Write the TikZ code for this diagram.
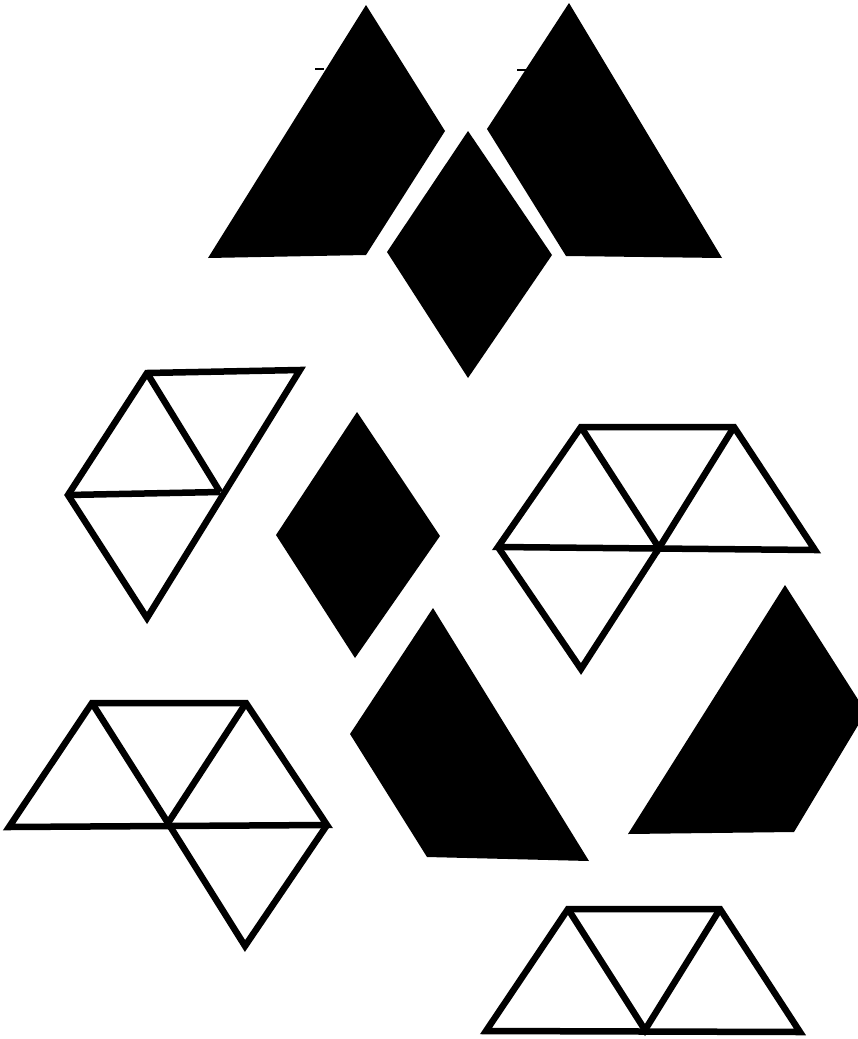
\documentclass[tikz,border=0pt]{standalone}
\begin{document}
\begin{tikzpicture}[x=1pt,y=-1pt,
  solidpiece/.style={fill=black,draw=none},
  tickmark/.style={draw=black,line width=2pt},
  outl/.style={draw=black,line width=6.5pt,line join=miter,line cap=butt}]
\useasboundingbox (0,0) rectangle (858,1039);
\clip (0,0) rectangle (858,1039);
% top black pieces
\fill[solidpiece] (366,5) -- (445,131) -- (366,255) -- (208,258) -- cycle;
\fill[solidpiece] (468,131) -- (552,255) -- (468,378) -- (387,252) -- cycle;
\fill[solidpiece] (569,3) -- (722,258) -- (566,256) -- (487,129) -- cycle;
\draw[tickmark] (315,69) -- (324,69);
\draw[tickmark] (517,70) -- (526,70);
% middle diamond
\fill[solidpiece] (357,412) -- (440,536) -- (355,658) -- (276,535) -- cycle;
% centre-bottom trapezoid
\fill[solidpiece] (433,608) -- (589,861) -- (427,857) -- (350,734) -- cycle;
% right trapezoid (clipped)
\fill[solidpiece] (785,585) -- (866,712) -- (794,832) -- (628,834) -- cycle;
% left-middle outline
\coordinate (a1) at (147,373);
\coordinate (a2) at (300,370);
\coordinate (a3) at (220,492);
\coordinate (a4) at (68,495);
\coordinate (a5) at (147,618);
\draw[outl] (a1) -- (a2) -- (a5) -- (a4) -- cycle;
\draw[outl] (a1) -- (a3);
\draw[outl] (a4) -- (a3);
% right-middle outline
\coordinate (b1) at (581,427);
\coordinate (b2) at (734,427);
\coordinate (b3) at (815,550);
\coordinate (b4) at (659,548);
\coordinate (b5) at (498,547);
\coordinate (b6) at (581,669);
\draw[outl] (b1) -- (b2) -- (b3) -- (b5) -- cycle;
\draw[outl] (b1) -- (b4) -- (b2);
\draw[outl] (b5) -- (b6) -- (b4);
% lower-left outline
\coordinate (c1) at (92,703);
\coordinate (c2) at (246,703);
\coordinate (c3) at (327,825);
\coordinate (c4) at (168,823);
\coordinate (c5) at (9,827);
\coordinate (c6) at (245,946);
\draw[outl] (c1) -- (c2) -- (c3) -- (c5) -- cycle;
\draw[outl] (c1) -- (c4) -- (c2);
\draw[outl] (c4) -- (c6) -- (c3);
% bottom outline
\coordinate (d1) at (568,909);
\coordinate (d2) at (720,909);
\coordinate (d3) at (800,1032);
\coordinate (d4) at (645,1030);
\coordinate (d5) at (486,1031);
\draw[outl] (d1) -- (d2) -- (d3) -- (d5) -- cycle;
\draw[outl] (d1) -- (d4) -- (d2);
\end{tikzpicture}
\end{document}
